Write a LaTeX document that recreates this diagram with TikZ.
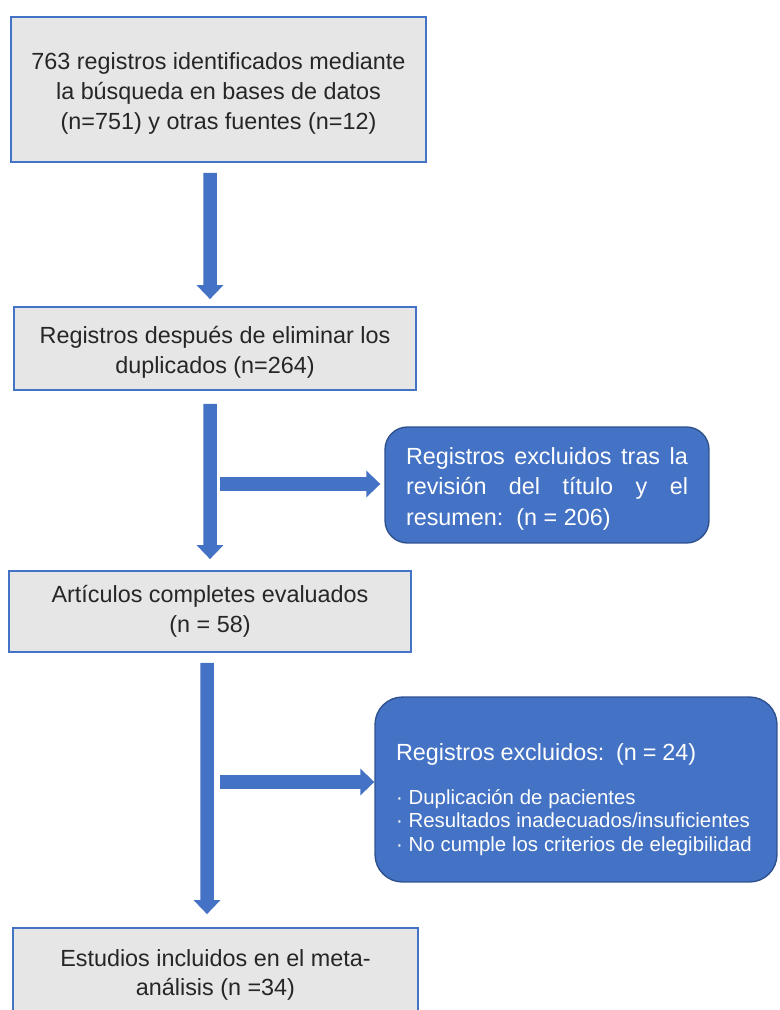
\documentclass[tikz,border=0pt]{standalone}
\usepackage{fontspec}
\setmainfont{Liberation Sans}
\usetikzlibrary{arrows.meta,positioning,calc}
\definecolor{PrismaBlue}{HTML}{4472C4}
\definecolor{PrismaEdge}{HTML}{2F528F}
\definecolor{PrismaGray}{HTML}{E7E6E6}
\definecolor{PrismaText}{HTML}{262626}

\begin{document}
\begin{tikzpicture}[x=0.02cm,y=-0.02cm,
 record/.style={draw=PrismaBlue,fill=PrismaGray,line width=1pt,text=PrismaText,
              align=center,font=\fontsize{13.3}{17}\selectfont,inner sep=0pt},
 excluded/.style={draw=PrismaEdge,fill=PrismaBlue,line width=0.8pt,text=white,
              inner xsep=0.42cm,inner ysep=0pt},
 flow/.style={draw=PrismaBlue,line width=0.27cm,-{Triangle[length=0.28cm,width=0.52cm]}}]
\useasboundingbox (0,0) rectangle (779,1010);
% main column
\node[record,minimum width=8.3cm,minimum height=2.9cm] (reg) at (218.5,89.5)
  {\rule{0pt}{14pt}763 registros identificados mediante\\la búsqueda en bases de datos\\(n=751) y otras fuentes (n=12)};
\node[record,minimum width=8.04cm,minimum height=1.66cm] (dup) at (215,348.5)
  {\rule{0pt}{14pt}Registros después de eliminar los\\duplicados (n=264)};
\node[record,minimum width=8.04cm,minimum height=1.62cm] (full) at (210,611.5)
  {Artículos completes evaluados\\(n = 58)};
\node[record,minimum width=8.1cm,minimum height=1.88cm] (incl) at (215.5,975)
  {Estudios incluidos en el meta-\\análisis (n =34)};
% exclusions
\node[excluded,rounded corners=0.45cm,text width=5.64cm,align=justify,
      minimum height=2.32cm,font=\fontsize{13.3}{17.3}\selectfont] (scr) at (547,485)
  {\rule{0pt}{14pt}Registros excluidos tras la\linebreak revisión del título y el\linebreak resumen:\ \ (n = 206)};
\node[excluded,rounded corners=0.55cm,text width=7.2cm,align=left,
      minimum height=3.7cm] (excl) at (576,789.5)
  {{\fontsize{13.3}{17}\selectfont\rule{0pt}{21pt}Registros excluidos:\ \ (n = 24)\par}\vspace{11.5pt}
   {\fontsize{11.6}{13.4}\selectfont · Duplicación de pacientes\\
    · Resultados inadecuados/insuficientes\\
    · No cumple los criterios de elegibilidad\par}};
% arrows
\draw[flow,shorten <=0.2cm,shorten >=0.14cm] ([xshift=-0.17cm]reg.south) -- ([xshift=-0.1cm]dup.north);
\draw[flow,shorten <=0.26cm,shorten >=0.22cm] ([xshift=-0.1cm]dup.south) -- (full.north);
\draw[flow,shorten <=0.2cm,shorten >=0.26cm] ([xshift=-0.06cm]full.south) -- ([xshift=-0.17cm]incl.north);
\coordinate (tap1) at (220,484);
\coordinate (tap2) at (220,782);
\draw[flow,shorten >=0.08cm] (tap1) -- (tap1 -| scr.west);
\draw[flow] (tap2) -- (tap2 -| excl.west);
\end{tikzpicture}
\end{document}
